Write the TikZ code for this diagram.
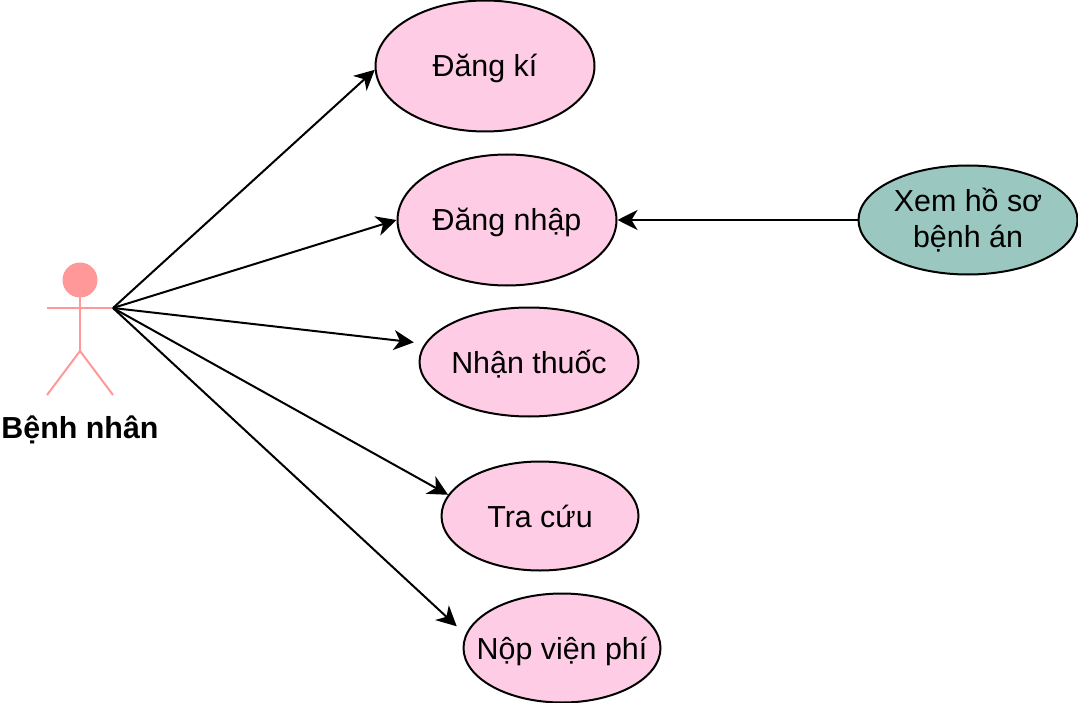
\documentclass[tikz,border=0pt]{standalone}
\usepackage{fontspec}
\setmainfont{Liberation Sans}
\usetikzlibrary{arrows.meta,shapes.geometric}
\definecolor{casepink}{HTML}{FFCCE6}
\definecolor{casegreen}{HTML}{9AC7BF}
\definecolor{actorpink}{HTML}{FF9999}
\newcommand{\casetext}[1]{\makebox[0pt]{#1}}
\tikzset{
	usecase/.style={draw=black, ellipse, fill=casepink, line width=2pt, inner sep=0pt, minimum width=219pt, minimum height=109pt, font=\fontsize{30.4}{36}\selectfont},
	oneline/.style={usecase, text height=22pt, text depth=0pt},
	actorline/.style={draw=actorpink, line width=2pt},
	link/.style={draw=black, line width=2pt, -{Stealth[length=20pt,width=20pt,inset=6pt]}},
}
\begin{document}
\begin{tikzpicture}[x=1pt, y=-1pt]
	\useasboundingbox (0,0) rectangle (1078,703);
	% actor
	\fill[actorpink] (80,280) circle (17.5);
	\draw[actorline] (80,297) -- (80,351);
	\draw[actorline] (47,308) -- (113,308);
	\draw[actorline] (47,395) -- (80,351) -- (113,395);
	\coordinate (hand) at (113,308);
	\node[font=\fontsize{30.4}{36}\selectfont\bfseries] (benhnhan) at (80,430) {Bệnh nhân};
	% use cases
	\node[oneline, minimum height=131pt] (dangki) at (485,66) {\casetext{Đăng kí}};
	\node[oneline, minimum height=131pt] (dangnhap) at (507,220) {\casetext{Đăng nhập}};
	\node[oneline] (nhanthuoc) at (529,362) {\casetext{Nhận thuốc}};
	\node[oneline, minimum width=197pt] (tracuu) at (540,516) {\casetext{Tra cứu}};
	\node[oneline, minimum width=197pt] (nopvienphi) at (562,648) {\casetext{Nộp viện phí}};
	\node[usecase, fill=casegreen, align=center] (xemhoso) at (968,220) {Xem hồ sơ\\bệnh án};
	% connectors
	\draw[link] (hand) -- (dangki.182);
	\draw[link] (hand) -- (dangnhap.west);
	\draw[link, shorten >=11pt] (hand) -- (nhanthuoc.170);
	\draw[link] (hand) -- (tracuu.167);
	\draw[link, shorten >=12pt] (hand) -- (nopvienphi.172);
	\draw[link] (xemhoso.west) -- (dangnhap.east);
\end{tikzpicture}
\end{document}
